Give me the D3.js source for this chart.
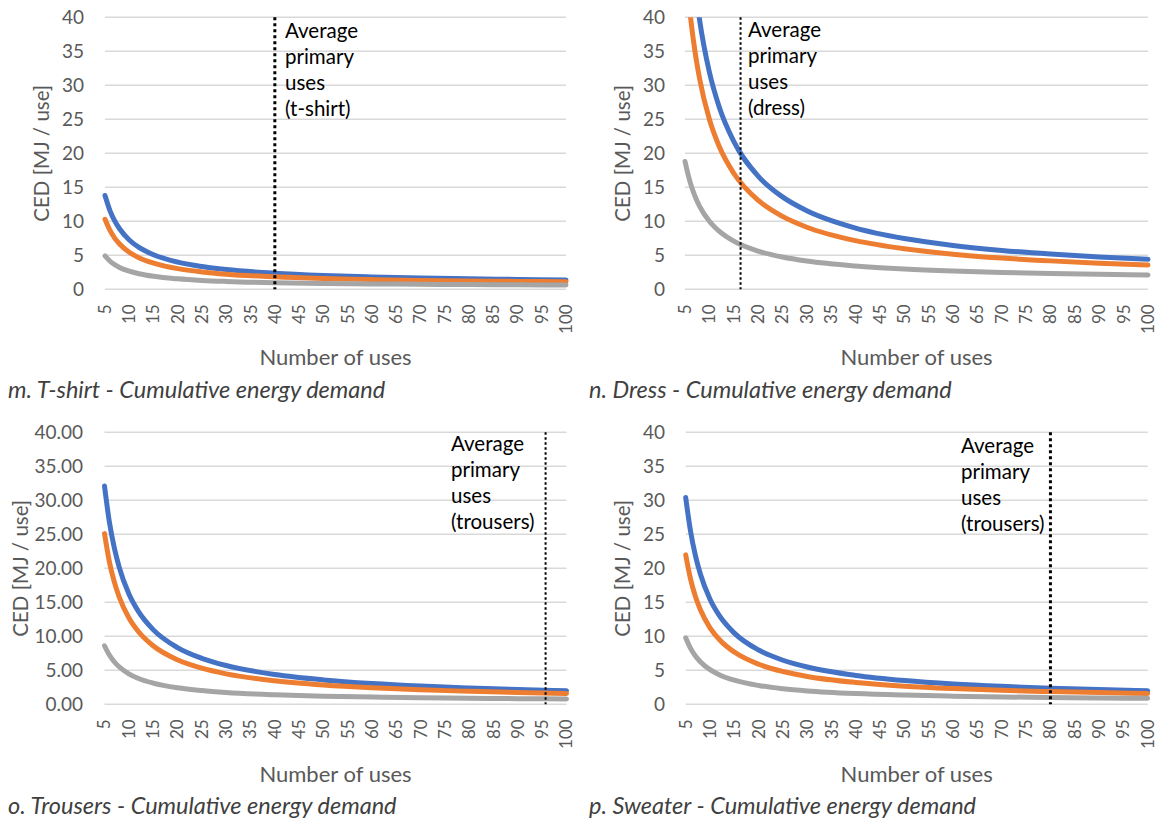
<!DOCTYPE html>
<html><head><meta charset="utf-8">
<script src="https://cdn.jsdelivr.net/npm/d3@7"></script>
<style>
body{margin:0;background:#fff}
text{font-family: Lato, 'Open Sans', sans-serif}
</style>
</head><body>
<svg id="chart" width="1158" height="823"></svg>
<script>
// ---------------- data ----------------
const uses = [5,6,7,8,10,12,15,20,25,30,40,50,60,70,80,90,100];
const xTickLabels = [5,10,15,20,25,30,35,40,45,50,55,60,65,70,75,80,85,90,95,100];
const yTickValues = [0,5,10,15,20,25,30,35,40];
const seriesColors = ["#4472C4","#ED7D31","#A5A5A5"];

const tshirtBlue   = [13.80,11.62,10.06,8.90,7.26,6.17,5.08,3.99,3.34,2.90,2.36,2.03,1.81,1.65,1.54,1.45,1.37];
const tshirtOrange = [10.30,8.69,7.53,6.67,5.46,4.65,3.85,3.04,2.56,2.23,1.83,1.59,1.43,1.31,1.23,1.16,1.10];
const tshirtGray   = [4.91,4.16,3.62,3.22,2.66,2.29,1.91,1.54,1.31,1.16,0.97,0.86,0.79,0.73,0.69,0.66,0.64];

const dressBlue    = [62.55,52.35,45.06,39.60,31.95,26.85,21.75,16.65,13.59,11.55,9.00,7.47,6.45,5.72,5.18,4.75,4.41];
const dressOrange  = [48.80,40.87,35.20,30.95,25.00,21.03,17.07,13.10,10.72,9.13,7.15,5.96,5.17,4.60,4.18,3.84,3.58];
const dressGray    = [18.80,15.87,13.78,12.21,10.01,8.55,7.08,5.62,4.74,4.15,3.42,2.98,2.69,2.48,2.32,2.20,2.10];

const trousersBlue   = [32.10,26.82,23.05,20.22,16.26,13.62,10.98,8.34,6.76,5.70,4.38,3.59,3.06,2.68,2.40,2.18,2.00];
const trousersOrange = [25.10,20.98,18.03,15.82,12.73,10.67,8.61,6.55,5.31,4.48,3.45,2.83,2.42,2.13,1.91,1.73,1.60];
const trousersGray   = [8.61,7.24,6.26,5.52,4.49,3.80,3.12,2.43,2.02,1.74,1.40,1.19,1.06,0.96,0.89,0.83,0.78];

const sweaterBlue    = [30.40,25.42,21.86,19.19,15.45,12.96,10.47,7.98,6.48,5.48,4.24,3.49,2.99,2.64,2.37,2.16,2.00];
const sweaterOrange  = [21.97,18.40,15.84,13.93,11.25,9.46,7.68,5.89,4.82,4.10,3.21,2.67,2.32,2.06,1.87,1.72,1.60];
const sweaterGray    = [9.79,8.23,7.11,6.27,5.10,4.32,3.54,2.76,2.29,1.97,1.58,1.35,1.19,1.08,1.00,0.93,0.88];

const avgUsesTshirt = 40;
const avgUsesDress = 16.4;
const avgUsesTrousers = 95.7;
const avgUsesSweater = 80;

const noteTshirt   = ["Average","primary","uses","(t-shirt)"];
const noteDress    = ["Average","primary","uses","(dress)"];
const noteTrousers = ["Average","primary","uses","(trousers)"];
const noteSweater  = ["Average","primary","uses","(trousers)"];

const captions = ["m. T-shirt - Cumulative energy demand","n. Dress - Cumulative energy demand",
                  "o. Trousers - Cumulative energy demand","p. Sweater - Cumulative energy demand"];
const yTitle = "CED [MJ / use]";
const xTitle = "Number of uses";

// ---------------- layout ----------------
const panels = [
  {series:[tshirtBlue,tshirtOrange,tshirtGray], avg:avgUsesTshirt, note:noteTshirt, cap:captions[0], fmt:d3.format("d"),
   x0:105, x1:566, y0:17.3, y1:289.3, yTitleX:42, tickEnd:84, noteX:285, noteY:31, capX:8, capY:390, xTitleY:357, dashW:3},
  {series:[dressBlue,dressOrange,dressGray], avg:avgUsesDress, note:noteDress, cap:captions[1], fmt:d3.format("d"),
   x0:685, x1:1148, y0:17.3, y1:289.3, yTitleX:623, tickEnd:665, noteX:748, noteY:30, capX:589, capY:390, xTitleY:357, dashW:2},
  {series:[trousersBlue,trousersOrange,trousersGray], avg:avgUsesTrousers, note:noteTrousers, cap:captions[2], fmt:d3.format(".2f"),
   x0:104.5, x1:566.5, y0:432.3, y1:704.3, yTitleX:21, tickEnd:83, noteX:451, noteY:444, capX:8, capY:806, xTitleY:774, dashW:2},
  {series:[sweaterBlue,sweaterOrange,sweaterGray], avg:avgUsesSweater, note:noteSweater, cap:captions[3], fmt:d3.format("d"),
   x0:685.7, x1:1147.7, y0:432.3, y1:704.3, yTitleX:623, tickEnd:665, noteX:961, noteY:446, capX:589, capY:806, xTitleY:774, dashW:3}
];

const svg = d3.select("#chart");
const axisColor = "#595959";

panels.forEach((p, i) => {
  const x = d3.scaleLinear().domain([5,100]).range([p.x0, p.x1]);
  const y = d3.scaleLinear().domain([0,40]).range([p.y1, p.y0]);
  const g = svg.append("g");

  const clipId = "clip" + i;
  svg.append("clipPath").attr("id", clipId).append("rect")
    .attr("x", p.x0 - 5).attr("y", p.y0).attr("width", p.x1 - p.x0 + 10).attr("height", p.y1 - p.y0 + 5);

  // gridlines
  g.selectAll(".grid").data(yTickValues).join("line")
    .attr("x1", p.x0).attr("x2", p.x1)
    .attr("y1", d => y(d)).attr("y2", d => y(d))
    .attr("stroke", "#D9D9D9").attr("stroke-width", 1.5);

  // y tick labels
  g.selectAll(".yt").data(yTickValues).join("text")
    .attr("x", p.tickEnd).attr("y", d => y(d)).attr("dy", "0.35em")
    .attr("text-anchor", "end").attr("fill", axisColor).attr("font-size", 19)
    .text(d => p.fmt(d));

  // x tick labels (rotated)
  g.selectAll(".xt").data(xTickLabels).join("text")
    .attr("transform", d => `translate(${x(d)},${p.y1 + 15}) rotate(-90)`)
    .attr("dy", "0.35em").attr("text-anchor", "end")
    .attr("fill", axisColor).attr("font-size", 17)
    .text(d => d);

  // y title
  g.append("text")
    .attr("transform", `translate(${p.yTitleX},${(p.y0 + p.y1) / 2}) rotate(-90)`)
    .attr("text-anchor", "middle").attr("dy", "0.35em")
    .attr("fill", axisColor).attr("font-size", 20.5).text(yTitle);

  // x title
  g.append("text").attr("x", (p.x0 + p.x1) / 2).attr("y", p.xTitleY).attr("dy", "0.35em")
    .attr("text-anchor", "middle").attr("fill", axisColor).attr("font-size", 22).text(xTitle);

  // caption
  g.append("text").attr("x", p.capX).attr("y", p.capY).attr("dy", "0.35em")
    .attr("fill", "#404040").attr("font-size", 23.5).attr("font-style", "italic").text(p.cap);

  // series lines
  const line = d3.line().x((d, k) => x(uses[k])).y(d => y(d)).curve(d3.curveMonotoneX);
  const lg = g.append("g").attr("clip-path", `url(#${clipId})`);
  p.series.forEach((s, k) => {
    lg.append("path").datum(s).attr("d", line)
      .attr("fill", "none").attr("stroke", seriesColors[k]).attr("stroke-width", 5)
      .attr("stroke-linecap", "round").attr("stroke-linejoin", "round");
  });

  // average line
  g.append("line").attr("x1", x(p.avg)).attr("x2", x(p.avg)).attr("y1", p.y0).attr("y2", p.y1)
    .attr("stroke", "#000").attr("stroke-width", p.dashW).attr("stroke-dasharray", p.dashW === 3 ? "3,3" : "2.5,2.5");

  // note
  g.selectAll(".note").data(p.note).join("text")
    .attr("x", p.noteX).attr("y", (d, k) => p.noteY + k * 26).attr("dy", "0.35em")
    .attr("fill", "#000").attr("font-size", 20.5).text(d => d);
});
</script>
</body></html>
